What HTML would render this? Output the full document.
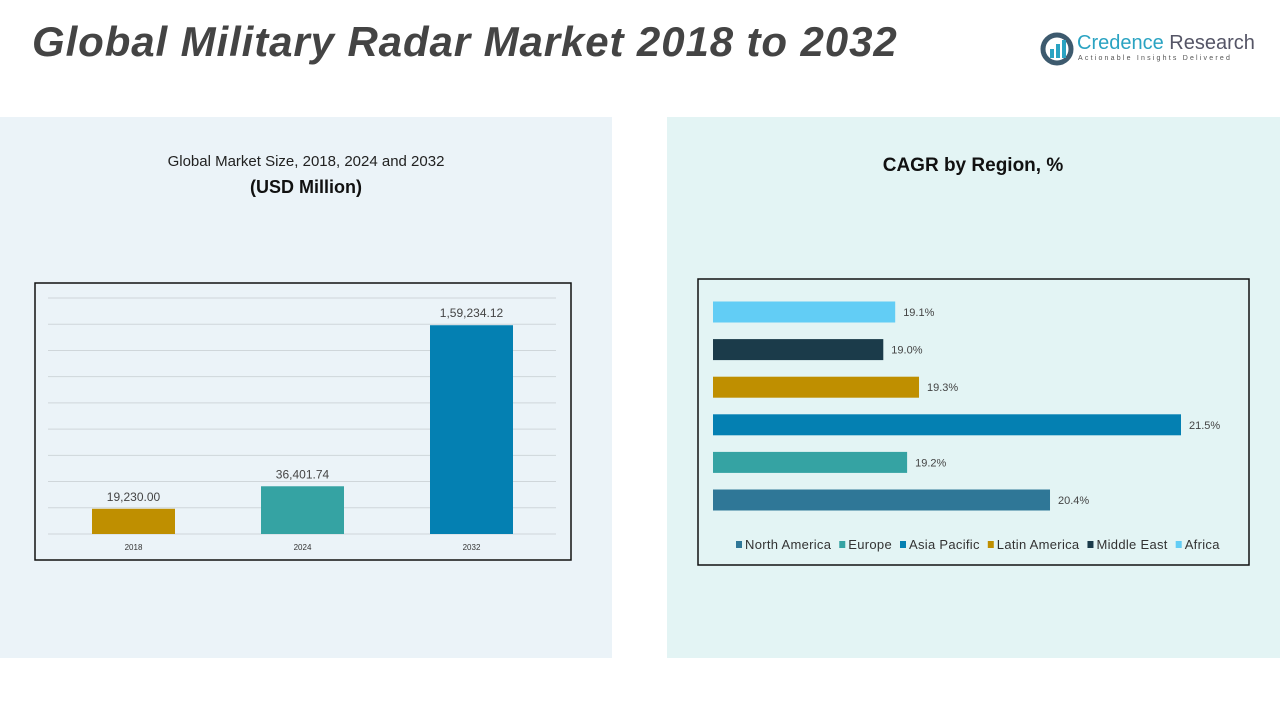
<!DOCTYPE html>
<html><head><meta charset="utf-8"><style>
body{margin:0;width:1280px;height:720px;background:#fff;font-family:"Liberation Sans",sans-serif;position:relative;overflow:hidden}
.abs{position:absolute}
</style></head><body>
<div class="abs" style="left:0;top:117px;width:612px;height:541px;background:#ebf3f8"></div>
<div class="abs" style="left:667px;top:117px;width:613px;height:541px;background:#e3f4f4"></div>
<div class="abs" style="left:32px;top:18px;font-size:42px;letter-spacing:0.9px;font-weight:bold;font-style:italic;color:#444;white-space:nowrap">Global Military Radar Market 2018 to 2032</div>
<div class="abs" style="left:1040px;top:32px;width:215px;height:36px">
 <svg width="34" height="34" style="position:absolute;left:0;top:0"><circle cx="17" cy="17" r="14" fill="none" stroke="#3d5a6e" stroke-width="5"/><rect x="10" y="17" width="4" height="9" fill="#2aa3c2"/><rect x="16" y="12" width="4" height="14" fill="#2aa3c2"/><rect x="22" y="8" width="4" height="18" fill="#2aa3c2"/></svg>
 <div class="abs" style="left:37px;top:0;font-size:20px;color:#2aa3c2;white-space:nowrap">Credence <span style="color:#556">Research</span></div>
 <div class="abs" style="left:38px;top:23px;font-size:7px;letter-spacing:2.2px;color:#555;white-space:nowrap">Actionable Insights Delivered</div>
</div>
<div class="abs" style="left:100px;top:153px;width:412px;text-align:center;font-size:15px;color:#222">Global Market Size, 2018, 2024 and 2032</div>
<div class="abs" style="left:100px;top:177px;width:412px;text-align:center;font-size:18px;font-weight:bold;color:#111">(USD Million)</div>
<div class="abs" style="left:767px;top:155px;width:412px;text-align:center;font-size:19px;font-weight:bold;color:#111">CAGR by Region, %</div>
<svg class="abs" style="left:0;top:0" width="1280" height="720" id="charts">
 <rect x="35" y="283" width="536" height="277" fill="none" stroke="#111" stroke-width="1.5"/>
 <rect x="698" y="279" width="551" height="286" fill="none" stroke="#111" stroke-width="1.5"/>
 <g id="left"></g><g id="right"></g>
</svg>
<script>
const years=["2018","2024","2032"];
const marketValues=[19230.00,36401.74,159234.12];
const valueLabels=["19,230.00","36,401.74","1,59,234.12"];
const barColors=["#bf8f00","#35a3a3","#0480b2"];
const regions=["North America","Europe","Asia Pacific","Latin America","Middle East","Africa"];
const cagr=[20.4,19.2,21.5,19.3,19.0,19.1];
const regionColors=["#2f7797","#35a3a3","#0480b2","#bf8f00","#1b3b4a","#62cdf5"];
const NS="http://www.w3.org/2000/svg";
function mk(t,a,p){const e=document.createElementNS(NS,t);for(const k in a)e.setAttribute(k,a[k]);p.appendChild(e);return e;}
const L=document.getElementById('left');
const y0=534,yMax=180000,yPix=236;
const yS=v=>y0-v/yMax*yPix;
for(let i=0;i<=9;i++){const g=mk('line',{x1:48,x2:556,y1:yS(i*20000),y2:yS(i*20000),stroke:'#cfd6da','stroke-width':1},L);

}
const xC=i=>133.5+i*169;
years.forEach((y,i)=>{
 const r=mk('rect',{x:xC(i)-41.5,y:yS(marketValues[i]),width:83,height:y0-yS(marketValues[i]),fill:barColors[i]},L);
 
 
 const t=mk('text',{x:xC(i),y:yS(marketValues[i])-8,'text-anchor':'middle','font-size':12,fill:'#444'},L);t.textContent=valueLabels[i];
 
 
 const xt=mk('text',{x:xC(i),y:550,'text-anchor':'middle','font-size':8,fill:'#333'},L);xt.textContent=y;
 
 
});
const R=document.getElementById('right');
const xMin=17.57,xMaxV=21.5,x0=713,x1=1181;
const xS=v=>x0+(v-xMin)/(xMaxV-xMin)*(x1-x0);
regions.forEach((r,i)=>{
 const yc=500-i*37.6;
 const b=mk('rect',{x:x0,y:yc-10.5,width:xS(cagr[i])-x0,height:21,fill:regionColors[i]},R);
 
 
 const t=mk('text',{x:xS(cagr[i])+8,y:yc+4,'font-size':11,fill:'#444'},R);t.textContent=cagr[i].toFixed(1)+'%';
 
 
});
let lx=736;
regions.forEach((r,i)=>{
 const g=mk('g',{},R);
 
 
 mk('rect',{x:lx,y:541,width:6,height:7,fill:regionColors[i]},g);
 const t=mk('text',{x:lx+9,y:549,'font-size':13,'letter-spacing':0.3,fill:'#333'},g);t.textContent=r;
 lx+=9+t.getComputedTextLength()+8;
});
</script>
</body></html>
